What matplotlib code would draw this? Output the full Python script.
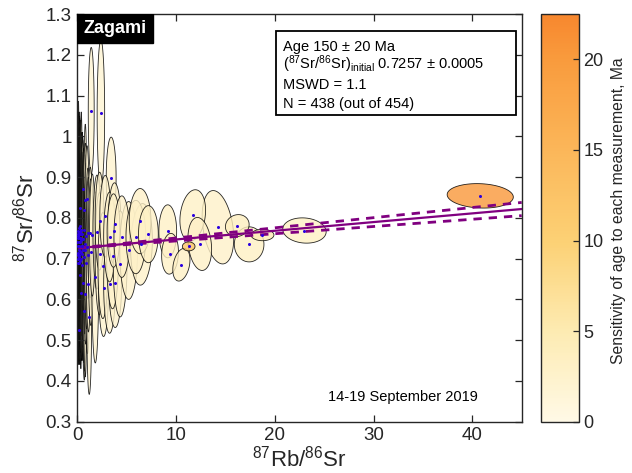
import numpy as np
import matplotlib
matplotlib.use("Agg")
import matplotlib.pyplot as plt
from matplotlib.patches import Polygon, Rectangle
from matplotlib.colors import LinearSegmentedColormap, Normalize
from matplotlib.cm import ScalarMappable

plt.rcParams['font.family'] = ['Liberation Sans', 'DejaVu Sans']
plt.rcParams['mathtext.fontset'] = 'custom'
plt.rcParams['mathtext.rm'] = 'Liberation Sans'
plt.rcParams['mathtext.default'] = 'regular'

# measurements crowded near the origin (87Rb/86Sr < 1.6), error correlation ~0
inner_rb = [0.02, 0.03, 0.04, 0.06, 0.07, 0.08, 0.09, 0.10, 0.11, 0.12,
            0.13, 0.14, 0.15, 0.16, 0.17, 0.18, 0.19, 0.21, 0.22, 0.23,
            0.24, 0.25, 0.26, 0.27, 0.28, 0.30, 0.30, 0.32, 0.33, 0.34,
            0.36, 0.37, 0.38, 0.40, 0.42, 0.43, 0.45, 0.47, 0.48, 0.50,
            0.54, 0.55, 0.58, 0.60, 0.63, 0.66, 0.71, 0.71, 0.74, 0.78,
            0.81, 0.81, 0.86, 0.90, 0.95, 0.98, 1.04, 1.08, 1.12, 1.21,
            1.31, 1.38, 1.41, 1.52]
inner_sr = [0.740, 0.710, 0.760, 0.700, 0.730, 0.750, 0.690, 0.715, 0.755, 0.768,
            0.526, 0.720, 0.742, 0.775, 0.705, 0.730, 0.760, 0.690, 0.710, 0.750,
            0.765, 0.718, 0.695, 0.780, 0.740, 0.823, 0.660, 0.750, 0.715, 0.745,
            0.700, 0.770, 0.615, 0.760, 0.760, 0.730, 0.712, 0.760, 0.685, 0.730,
            0.872, 0.748, 0.640, 0.722, 0.770, 0.705, 0.819, 0.572, 0.614, 0.735,
            0.843, 0.720, 0.690, 0.755, 0.728, 0.847, 0.637, 0.762, 0.710, 0.557,
            0.764, 0.716, 1.063, 0.758]
inner_rb_err = [0.04, 0.03, 0.05, 0.05, 0.05, 0.06, 0.05, 0.06, 0.06, 0.07,
                0.07, 0.06, 0.07, 0.07, 0.08, 0.07, 0.08, 0.08, 0.08, 0.09,
                0.08, 0.09, 0.09, 0.09, 0.09, 0.10, 0.10, 0.10, 0.10, 0.11,
                0.11, 0.11, 0.11, 0.12, 0.12, 0.12, 0.12, 0.12, 0.13, 0.13,
                0.13, 0.14, 0.14, 0.15, 0.15, 0.15, 0.16, 0.16, 0.17, 0.17,
                0.18, 0.18, 0.18, 0.19, 0.20, 0.20, 0.21, 0.21, 0.22, 0.24,
                0.26, 0.27, 0.30, 0.28]
inner_sr_err = [0.28, 0.26, 0.30, 0.26, 0.29, 0.30, 0.24, 0.22, 0.30, 0.318,
                0.08, 0.27, 0.28, 0.26, 0.25, 0.29, 0.30, 0.24, 0.26, 0.30,
                0.28, 0.20, 0.23, 0.26, 0.30, 0.20, 0.22, 0.28, 0.25, 0.23,
                0.27, 0.27, 0.15, 0.30, 0.20, 0.28, 0.26, 0.25, 0.22, 0.28,
                0.12, 0.25, 0.18, 0.24, 0.20, 0.26, 0.15, 0.17, 0.19, 0.22,
                0.14, 0.31, 0.20, 0.18, 0.20, 0.13, 0.17, 0.16, 0.19, 0.19,
                0.16, 0.18, 0.155, 0.15]
inner_sens = [1.0, 1.0, 1.0, 1.0, 1.1, 1.1, 1.0, 1.1, 1.2, 1.2,
              0.8, 1.2, 1.2, 1.3, 1.2, 1.3, 1.3, 1.2, 1.3, 1.4,
              1.4, 1.3, 1.3, 1.4, 1.4, 1.5, 1.3, 1.5, 1.4, 1.5,
              1.4, 1.5, 1.3, 1.6, 1.6, 1.5, 1.5, 1.6, 1.5, 1.6,
              1.7, 1.7, 1.5, 1.7, 1.8, 1.7, 1.8, 1.6, 1.7, 1.9,
              1.9, 1.8, 1.9, 2.0, 2.0, 2.0, 1.9, 2.1, 2.1, 2.0,
              2.2, 2.2, 2.0, 2.3]

# measurements spread along the isochron
outer_rb = [1.82, 1.99, 2.26, 2.26, 2.39, 2.59, 2.66, 2.83, 3.27, 3.27,
            3.43, 3.57, 3.67, 3.77, 3.84, 4.34, 4.51, 5.20, 5.93, 6.36,
            6.50, 7.20, 9.16, 9.39, 10.54, 11.28, 11.69, 12.40, 14.24, 16.20,
            17.40, 18.75, 23.00, 40.80]
outer_sr = [0.654, 0.765, 0.792, 0.712, 1.056, 0.683, 0.629, 0.804, 0.637, 0.753,
            0.898, 0.707, 0.769, 0.786, 0.641, 0.687, 0.754, 0.720, 0.753, 0.792,
            0.735, 0.760, 0.767, 0.712, 0.685, 0.730, 0.806, 0.736, 0.777, 0.781,
            0.735, 0.758, 0.769, 0.854]
outer_rb_err = [0.35, 0.40, 0.45, 0.45, 0.38, 0.50, 0.50, 0.55, 0.60, 0.60,
                0.50, 0.60, 0.65, 0.65, 0.65, 0.70, 0.80, 0.90, 1.00, 1.10,
                1.10, 1.00, 0.90, 0.85, 0.87, 0.64, 1.30, 1.20, 1.60, 1.20,
                1.50, 1.16, 2.20, 3.35]
outer_sr_err = [0.21, 0.14, 0.12, 0.15, 0.18, 0.13, 0.12, 0.10, 0.12, 0.11,
                0.10, 0.13, 0.09, 0.10, 0.11, 0.13, 0.10, 0.12, 0.09, 0.08,
                0.10, 0.07, 0.065, 0.05, 0.04, 0.011, 0.063, 0.065, 0.09, 0.027,
                0.043, 0.014, 0.031, 0.030]
outer_rho = [0.0, 0.0, 0.0, 0.0, 0.0, 0.0, 0.0, 0.0, 0.0, 0.0,
             0.0, 0.0, 0.0, 0.0, 0.0, 0.0, 0.0, 0.0, 0.0, 0.0,
             0.1, 0.0, 0.0, 0.1, 0.3, 0.0, 0.2, -0.2, -0.3, 0.1,
             0.0, 0.0, -0.1, -0.1]
outer_sens = [2.2, 2.3, 2.4, 2.3, 2.0, 2.4, 2.3, 2.5, 2.4, 2.6,
              2.2, 2.5, 2.7, 2.6, 2.4, 2.6, 2.8, 2.6, 2.9, 2.9,
              2.7, 3.0, 3.0, 3.1, 3.2, 12.5, 3.0, 3.1, 2.8, 3.8,
              3.3, 4.8, 3.4, 20.5]

# isochron result
age_ma = 150
sr_initial = 0.7257
sr_initial_err = 0.0005
slope_err = 0.00036
decay_const = 1.42e-11

x_ticks = [0, 10, 20, 30, 40]
y_ticks = [0.3, 0.4, 0.5, 0.6, 0.7, 0.8, 0.9, 1.0, 1.1, 1.2, 1.3]
y_tick_labels = ['0.3', '0.4', '0.5', '0.6', '0.7', '0.8', '0.9', '1', '1.1', '1.2', '1.3']
cbar_ticks = [0, 5, 10, 15, 20]

cmap = LinearSegmentedColormap.from_list('sens', [
    (0.0, '#FFF9E6'), (0.22, '#FDEBB2'), (0.44, '#FCD175'),
    (0.67, '#FBB659'), (0.89, '#F99B3D'), (1.0, '#F7872E')])
norm = Normalize(0, 22.5)

fig = plt.figure(figsize=(6.32, 4.73), dpi=100)
ax = fig.add_axes([0.1223, 0.1084, 0.7032, 0.8620])
cax = fig.add_axes([0.856, 0.1084, 0.0606, 0.8620])

rb_all = inner_rb + outer_rb
sr_all = inner_sr + outer_sr
rbe_all = inner_rb_err + outer_rb_err
sre_all = inner_sr_err + outer_sr_err
rho_all = [0.0] * len(inner_rb) + outer_rho
sens_all = inner_sens + outer_sens

t = np.linspace(0, 2 * np.pi, 80)
order = np.argsort(sens_all, kind='stable')
for i in order:
    r = rho_all[i]
    ex = rb_all[i] + rbe_all[i] * np.cos(t)
    ey = sr_all[i] + sre_all[i] * (r * np.cos(t) + np.sqrt(1 - r * r) * np.sin(t))
    fc = cmap(norm(sens_all[i]))
    ax.add_patch(Polygon(np.column_stack([ex, ey]), closed=True,
                         facecolor=(fc[0], fc[1], fc[2], 0.8),
                         edgecolor=(0, 0, 0, 0.85), linewidth=0.6, zorder=1))

# isochron and its envelope
slope = np.exp(decay_const * age_ma * 1e6) - 1
xl = np.linspace(0, 45, 200)
yl = sr_initial + slope * xl
band = np.sqrt(sr_initial_err ** 2 + (xl * slope_err) ** 2)
ax.plot(xl, yl, color='#800080', lw=1.6, zorder=2)
ax.plot(xl, yl + band, color='#800080', lw=2, ls=(0, (3, 2.5)), zorder=2)
ax.plot(xl, yl - band, color='#800080', lw=2, ls=(0, (3, 2.5)), zorder=2)

ax.plot(rb_all, sr_all, 'o', color='#2A00E0', ms=2.2, mew=0, zorder=3)

ax.set_xlim(0, 45)
ax.set_ylim(0.3, 1.3)
ax.set_xticks(x_ticks)
ax.set_yticks(y_ticks)
ax.set_yticklabels(y_tick_labels)
ax.tick_params(direction='in', top=True, right=True, length=5, width=0.9,
               labelsize=13.5, colors='#262626', pad=4)
for s in ax.spines.values():
    s.set_color('#262626')
    s.set_linewidth(1)

ax.set_xlabel('$^{87}$Rb/$^{86}$Sr', fontsize=16, color='#262626')
ax.xaxis.set_label_coords(0.5, -0.058)
ax.set_ylabel('$^{87}$Sr/$^{86}$Sr', fontsize=16, color='#262626')
ax.yaxis.set_label_coords(-0.088, 0.5)

# sample name tag
ax.add_patch(Rectangle((0, 0.9296), 0.171, 0.0704, transform=ax.transAxes,
                       facecolor='black', edgecolor='black', zorder=5))
ax.text(0.0855, 0.965, 'Zagami', transform=ax.transAxes, color='white',
        fontsize=13, fontweight='bold', ha='center', va='center', zorder=6)

# results box
ax.add_patch(Rectangle((0.448, 0.752), 0.539, 0.206, transform=ax.transAxes,
                       facecolor='white', edgecolor='black', lw=1.3, zorder=5))
box_lines = [f'Age {age_ma} ± 20 Ma',
             f'($^{{87}}$Sr/$^{{86}}$Sr)$_{{initial}}$ {sr_initial:.4f} ± {sr_initial_err:.4f}',
             'MSWD = 1.1',
             'N = 438 (out of 454)']
for line, yb in zip(box_lines, [0.910, 0.865, 0.815, 0.769]):
    ax.text(0.462, yb, line, transform=ax.transAxes, fontsize=10.5,
            ha='left', va='baseline', zorder=6)

ax.text(0.732, 0.061, '14-19 September 2019', transform=ax.transAxes,
        fontsize=10.5, ha='center', va='center')

cb = fig.colorbar(ScalarMappable(norm=norm, cmap=cmap), cax=cax)
cb.set_ticks(cbar_ticks)
cax.tick_params(direction='in', length=4, width=0.9, labelsize=13,
                colors='#262626', pad=3)
cb.outline.set_edgecolor('#262626')
cb.outline.set_linewidth(1)
fig.text(618 / 632, 0.555, 'Sensitivity of age to each measurement, Ma',
         rotation=90, ha='center', va='center', fontsize=11.3, color='#262626')

fig.savefig('out.png', dpi=100)
